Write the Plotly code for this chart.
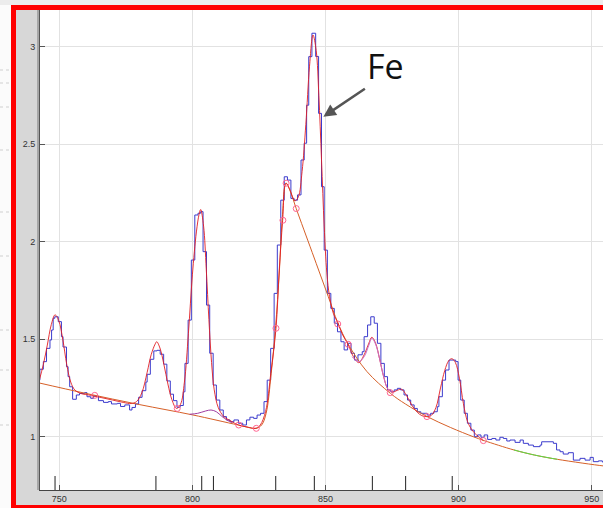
import plotly.graph_objects as go

# ---------------- data ----------------
hist_x = [741.5, 742.7, 744.0, 745.2, 746.5, 747.1, 747.7, 748.3, 749.6, 750.8, 751.4, 752.7,
          753.3, 753.9, 755.0, 756.4, 757.6, 759.5, 760.4, 761.8, 762.9, 764.7, 766.6, 768.4,
          769.6, 771.8, 773.0, 774.6, 776.4, 777.3, 778.6, 779.8, 781.1, 782.5, 783.0, 784.2,
          785.5, 786.7, 787.9, 789.2, 790.4, 791.7, 792.9, 794.2, 795.4, 796.6, 797.2, 798.4,
          799.6, 800.9, 802.1, 803.1, 804.0, 805.3, 806.5, 807.8, 809.0, 810.3, 811.6, 812.8,
          814.1, 815.6, 817.3, 818.9, 820.3, 821.6, 823.0, 824.3, 825.6, 826.9, 828.1, 829.4,
          830.7, 831.9, 833.2, 834.5, 835.7, 837.0, 838.2, 839.5, 840.8, 842.0, 842.9, 843.7,
          844.9, 846.3, 847.4, 848.5, 849.5, 850.7, 852.0, 853.3, 854.5, 855.8, 857.0, 858.3,
          859.6, 860.9, 862.2, 863.8, 864.5, 865.8, 867.0, 868.3, 869.5, 870.8, 872.1, 873.3,
          874.5, 875.8, 877.0, 878.2, 879.5, 880.8, 882.0, 883.3, 884.5, 885.8, 888.2, 889.5,
          890.7, 892.0, 892.6, 893.9, 895.1, 896.4, 898.9, 899.8, 900.8, 902.1, 903.3, 904.6,
          905.9, 907.1, 908.4, 909.6, 910.9, 912.5, 914.0, 915.5, 916.8, 918.1, 919.3, 921.2,
          923.1, 924.3, 926.2, 928.1, 930.6, 931.2, 935.6, 936.8, 938.1, 939.3, 941.2, 943.1,
          945.6, 947.5, 949.4, 950.6, 952.5, 954.0, 956.0]
hist_y = [1.29, 1.346, 1.385, 1.453, 1.496, 1.547, 1.607, 1.615, 1.59, 1.513, 1.46, 1.359,
          1.308, 1.256, 1.192, 1.214, 1.222, 1.226, 1.205, 1.197, 1.208, 1.185, 1.176, 1.18,
          1.168, 1.171, 1.155, 1.163, 1.137, 1.150, 1.168, 1.202, 1.236, 1.28, 1.32, 1.397,
          1.44, 1.443, 1.423, 1.372, 1.286, 1.218, 1.185, 1.151, 1.16, 1.23, 1.376, 1.598,
          1.906, 2.137, 2.146, 2.154, 1.949, 1.675, 1.428, 1.265, 1.188, 1.137, 1.103, 1.086,
          1.077, 1.086, 1.069, 1.06, 1.086, 1.10, 1.094, 1.111, 1.12, 1.18, 1.29, 1.453,
          1.735, 1.983, 2.213, 2.333, 2.316, 2.222, 2.213, 2.24, 2.419, 2.505, 2.70, 2.949,
          3.069, 2.95, 2.658, 2.282, 1.957, 1.735, 1.658, 1.582, 1.538, 1.487, 1.445, 1.479,
          1.428, 1.393, 1.42, 1.436, 1.513, 1.573, 1.615, 1.582, 1.479, 1.376, 1.308, 1.24,
          1.231, 1.24, 1.248, 1.24, 1.214, 1.188, 1.163, 1.145, 1.128, 1.12, 1.111, 1.12,
          1.128, 1.154, 1.205, 1.29, 1.342, 1.393, 1.385, 1.29, 1.188, 1.12, 1.069, 1.034,
          1.0, 1.009, 0.997, 1.009, 0.986, 0.991, 0.983, 0.997, 0.991, 0.978, 0.983, 0.971,
          0.983, 0.966, 0.957, 0.949, 0.957, 0.974, 0.966, 0.932, 0.923, 0.911, 0.918, 0.88,
          0.889, 0.88, 0.894, 0.872, 0.876, 0.87, 0.87]

fit_x = [742.5, 744.0, 745.5, 747.0, 748.4, 749.8, 751.3, 752.8, 754.3, 755.8, 758.0, 762.0,
         766.0, 770.0, 774.0, 777.0, 779.0, 781.0, 783.0, 784.5, 786.0, 786.6, 787.8, 789.3,
         790.8, 792.3, 794.0, 795.5, 797.0, 798.5, 800.0, 801.5, 802.5, 803.1, 804.2, 805.2,
         806.2, 807.2, 808.2, 809.7, 811.7, 814.5, 817.3, 820.5, 823.9, 825.5, 827.5, 829.5,
         831.4, 832.6, 833.9, 835.1, 836.5, 838.5, 839.8, 841.2, 842.6, 844.0, 845.3, 846.5,
         847.5, 848.5, 849.5, 850.5, 851.5, 853.0, 854.6, 856.5, 858.4, 860.5, 862.5, 864.5,
         866.3, 867.4, 868.8, 870.3, 871.8, 873.4, 875.0, 877.0, 878.6, 880.5, 882.5, 884.5,
         886.2, 887.9, 889.8, 891.5, 893.2, 894.8, 896.3, 897.5, 898.8, 900.3, 901.8, 903.3,
         905.0, 906.8, 909.3]
fit_y = [1.29, 1.37, 1.47, 1.575, 1.625, 1.595, 1.50, 1.37, 1.28, 1.24, 1.222, 1.212,
         1.200, 1.188, 1.176, 1.170, 1.180, 1.225, 1.33, 1.42, 1.475, 1.487, 1.455, 1.37,
         1.27, 1.19, 1.145, 1.165, 1.28, 1.53, 1.83, 2.05, 2.14, 2.165, 2.08, 1.86,
         1.60, 1.38, 1.24, 1.15, 1.105, 1.08, 1.06, 1.05, 1.043, 1.06, 1.13, 1.33,
         1.556, 1.85, 2.11, 2.30, 2.27, 2.21, 2.23, 2.36, 2.60, 2.90, 3.06, 2.98,
         2.75, 2.42, 2.08, 1.84, 1.72, 1.63, 1.585, 1.52, 1.476, 1.41, 1.38, 1.42,
         1.48, 1.51, 1.48, 1.40, 1.31, 1.245, 1.228, 1.238, 1.243, 1.21, 1.16, 1.125,
         1.108, 1.103, 1.11, 1.15, 1.25, 1.34, 1.39, 1.40, 1.38, 1.30, 1.17, 1.08,
         1.035, 1.008, 0.98]

bg_x = [742.0, 760.0, 780.0, 800.0, 817.3, 823.9, 826.0, 827.7, 829.6, 831.2, 832.7, 833.7,
        835.2, 837.0, 839.0, 845.0, 851.0, 854.6, 858.5, 865.5, 874.4, 880.0, 888.2, 897.0,
        905.5, 909.6, 920.8, 928.5, 937.1, 954.5, 957.0]
bg_y = [1.277, 1.222, 1.165, 1.112, 1.060, 1.043, 1.06, 1.12, 1.325, 1.556, 1.855, 2.11,
        2.30, 2.25, 2.17, 1.945, 1.72, 1.585, 1.475, 1.335, 1.222, 1.168, 1.103, 1.047,
        1.0, 0.98, 0.932, 0.906, 0.884, 0.850, 0.847]

comp1_x = [799.0, 802.0, 805.0, 807.0, 809.0, 811.0, 813.0, 815.0]
comp1_y = [1.115, 1.12, 1.132, 1.137, 1.128, 1.105, 1.085, 1.072]
comp2_x = [860.0, 862.5, 864.5, 866.3, 867.4, 868.8, 870.3, 871.8, 873.4, 875.0]
comp2_y = [1.41, 1.385, 1.41, 1.47, 1.505, 1.475, 1.40, 1.31, 1.245, 1.228]

anchor_x = [763.3, 794.3, 817.4, 824.0, 831.4, 834.0, 835.2, 839.0, 854.6, 858.5, 874.3, 888.1, 909.3]
anchor_y = [1.212, 1.145, 1.060, 1.043, 1.556, 2.11, 2.30, 2.17, 1.578, 1.474, 1.226, 1.103, 0.98]

line_energies = [748.4, 786.3, 803.5, 807.9, 831.3, 845.8, 867.6, 880.1, 897.6]

x_ticks = [750, 800, 850, 900, 950]
y_ticks = [1, 1.5, 2, 2.5, 3]
y_tick_text = ["1", "1.5", "2", "2.5", "3"]

label_text = "Fe"
label_xy = (872.4, 2.90)
arrow_xy = (849.2, 2.641)

# ---------------- figure ----------------
fig = go.Figure()
fig.add_trace(go.Scatter(x=hist_x, y=hist_y, mode="lines", line_shape="hv",
                         line=dict(color="rgb(60,60,205)", width=1), hoverinfo="skip"))
fig.add_trace(go.Scatter(x=bg_x, y=bg_y, mode="lines", line_shape="spline",
                         line=dict(color="rgb(214,96,40)", width=1), hoverinfo="skip"))
g0, g1 = 26, 29
fig.add_trace(go.Scatter(x=bg_x[g0:g1], y=bg_y[g0:g1], mode="lines", line_shape="spline",
                         line=dict(color="rgb(90,220,70)", width=1), hoverinfo="skip"))
fig.add_trace(go.Scatter(x=comp1_x, y=comp1_y, mode="lines", line_shape="spline",
                         line=dict(color="rgb(160,60,160)", width=1), hoverinfo="skip"))
fig.add_trace(go.Scatter(x=fit_x, y=fit_y, mode="lines", line_shape="spline",
                         line=dict(color="rgba(225,30,35,0.9)", width=1), hoverinfo="skip"))
fig.add_trace(go.Scatter(x=comp2_x, y=comp2_y, mode="lines", line_shape="spline",
                         line=dict(color="rgb(200,110,200)", width=1), hoverinfo="skip"))
fig.add_trace(go.Scatter(x=anchor_x, y=anchor_y, mode="markers",
                         marker=dict(symbol="circle-open", size=6,
                                     line=dict(color="rgb(235,80,80)", width=1)),
                         hoverinfo="skip"))

W, H = 603, 508
L, R, T, B = 40, 0, 10, 18
pw, ph = W - L - R, H - T - B


def px(v):
    return (v - L) / pw


def py(v):
    return (H - B - v) / ph


shapes = []
for e in line_energies:
    shapes.append(dict(type="line", xref="x", yref="paper", x0=e, x1=e, y0=0, y1=14 / ph,
                       line=dict(color="#222", width=1)))
# second left frame line
shapes.append(dict(type="line", xref="paper", yref="paper", x0=px(38), x1=px(38), y0=0, y1=1,
                   line=dict(color="#777", width=1)))
# outer strips (outside the red frame)
shapes.append(dict(type="rect", xref="paper", yref="paper", x0=px(0), x1=px(W + 5), y0=py(5),
                   y1=py(0), fillcolor="#ececec", line=dict(width=0), layer="above"))
shapes.append(dict(type="rect", xref="paper", yref="paper", x0=px(0), x1=px(11), y0=py(H),
                   y1=py(5), fillcolor="#fbfbfb", line=dict(width=0), layer="above"))
for yy in [70, 83, 107, 150, 212, 256, 330, 370, 425]:
    shapes.append(dict(type="line", xref="paper", yref="paper", x0=px(0), x1=px(10),
                       y0=py(yy), y1=py(yy), line=dict(color="#cfcfcf", width=1, dash="dot"),
                       layer="above"))
# red frame
shapes.append(dict(type="rect", xref="paper", yref="paper", x0=px(13.5), x1=px(W + 8),
                   y0=py(507.5), y1=py(7.5), line=dict(color="#ff0000", width=5),
                   layer="above"))

fig.update_layout(
    width=W, height=H,
    margin=dict(l=L, r=R, t=T, b=B, pad=0),
    paper_bgcolor="#d7d7d7",
    plot_bgcolor="white",
    showlegend=False,
    font=dict(family="Liberation Sans, Arial, sans-serif", size=9, color="#333"),
    shapes=shapes,
    xaxis=dict(range=[742.75, 954.24], tickvals=x_ticks, ticks="inside", ticklen=5,
               tickcolor="#555", showgrid=True, gridcolor="#e2e2e2", gridwidth=1,
               showline=True, linecolor="#444", linewidth=1, zeroline=False,
               tickfont=dict(size=9, color="#333"), automargin=False),
    yaxis=dict(range=[0.7267, 3.1882], tickvals=y_ticks, ticktext=y_tick_text,
               ticks="inside", ticklen=5, tickcolor="#555", showgrid=True,
               gridcolor="#e2e2e2", gridwidth=1, showline=True, linecolor="#555",
               linewidth=1, zeroline=False, tickfont=dict(size=9, color="#333"),
               ticklabelstandoff=2, automargin=False),
    annotations=[
        dict(x=label_xy[0], y=label_xy[1], xref="x", yref="y", text=label_text,
             showarrow=False, font=dict(family="Open Sans", size=34, color="#111")),
        dict(x=arrow_xy[0], y=arrow_xy[1], xref="x", yref="y", text="", showarrow=True,
             ax=43, ay=-29, arrowcolor="#555", arrowwidth=2.5, arrowhead=2, arrowsize=1,
             standoff=0, startstandoff=0),
    ],
)

fig.write_html("out.html", config={"displayModeBar": False},
               post_script="document.body.style.margin='0';document.body.style.overflow='hidden';")
